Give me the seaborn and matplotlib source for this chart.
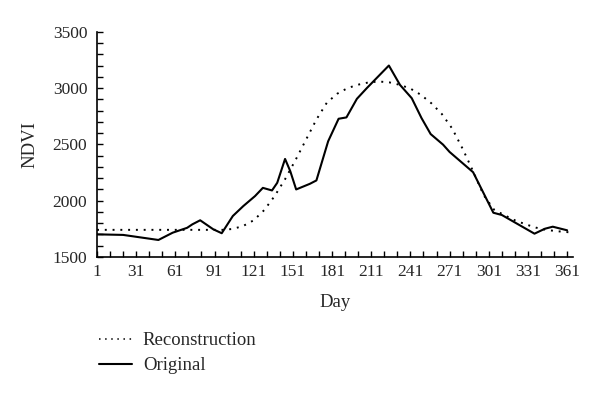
import numpy as np
import pandas as pd
import matplotlib
matplotlib.use("Agg")
import matplotlib.pyplot as plt
import seaborn as sns
from matplotlib.ticker import MultipleLocator, FixedLocator
from matplotlib.lines import Line2D

orig_days = [1, 21, 48, 59, 70, 74, 80, 90, 96.5, 105, 113, 122, 128, 135, 139, 145, 149, 153.5,
             164, 169, 178, 186, 192, 200, 207.5, 224.5, 233, 242, 249.5, 256.5, 266, 271,
             289, 304.5, 311, 336, 344, 350, 361]
orig_vals = [1700, 1695, 1650, 1715, 1758, 1789, 1825, 1745, 1710, 1863, 1951, 2040, 2113, 2090, 2158,
             2370, 2261, 2099, 2149, 2179, 2527, 2727, 2739, 2904, 2998, 3200, 3028, 2910,
             2733, 2591, 2497, 2432, 2252, 1892, 1872, 1706, 1750, 1768, 1736]

rec_days = [1, 17, 33, 49, 65, 81, 97, 105, 113, 121, 129, 137, 145, 153, 161, 169, 177, 185,
            193, 201, 209, 217, 225, 233, 241, 249, 257, 265, 273, 281, 289, 297, 305, 313,
            321, 329, 337, 345, 353, 361, 365]
rec_vals = [1740, 1740, 1740, 1740, 1740, 1740, 1740, 1748, 1775, 1825, 1915, 2040, 2190, 2360,
            2540, 2720, 2870, 2950, 3000, 3030, 3050, 3058, 3050, 3028, 2995, 2940, 2865, 2770,
            2640, 2460, 2260, 2050, 1920, 1870, 1825, 1790, 1760, 1740, 1728, 1720, 1715]

x_ticks = [1, 31, 61, 91, 121, 151, 181, 211, 241, 271, 301, 331, 361]

sns.set_style("ticks")
plt.rcParams['font.family'] = ['Liberation Serif', 'DejaVu Serif']

fig = plt.figure(figsize=(6, 3.97), dpi=100)
ax = fig.add_axes([0.1617, 0.353, 0.955 - 0.1617, 0.92 - 0.353])

df_rec = pd.DataFrame({"Day": rec_days, "NDVI": rec_vals})
df_org = pd.DataFrame({"Day": orig_days, "NDVI": orig_vals})

sns.lineplot(data=df_rec, x="Day", y="NDVI", ax=ax, color="black", linewidth=1.4,
             linestyle=(0, (1, 3)), estimator=None, sort=False)
sns.lineplot(data=df_org, x="Day", y="NDVI", ax=ax, color="black", linewidth=1.5,
             estimator=None, sort=False)

ax.set_xlim(1, 365.5)
ax.set_ylim(1500, 3500)
ax.xaxis.set_major_locator(FixedLocator(x_ticks))
ax.xaxis.set_minor_locator(FixedLocator(list(range(11, 366, 10))))
ax.yaxis.set_major_locator(MultipleLocator(500))
ax.yaxis.set_minor_locator(MultipleLocator(100))
ax.tick_params(which="both", direction="in", length=4, width=1, labelsize=12.5, color="black")
ax.tick_params(axis="x", pad=5)
ax.tick_params(axis="y", pad=7)
for s in ["top", "right"]:
    ax.spines[s].set_visible(False)
for s in ["left", "bottom"]:
    ax.spines[s].set_linewidth(1.2)
    ax.spines[s].set_color("black")

ax.set_xlabel("Day", fontsize=13.5, labelpad=10)
ax.set_ylabel("NDVI", fontsize=13.5, labelpad=10)

handles = [Line2D([], [], color="black", linewidth=1.1, linestyle=(0, (1, 3))),
           Line2D([], [], color="black", linewidth=1.5)]
fig.legend(handles, ["Reconstruction", "Original"], loc="upper left",
           bbox_to_anchor=(0.152, 0.182), frameon=False, fontsize=13.5,
           handlelength=1.76, handletextpad=0.59, labelspacing=0.42, borderaxespad=0)

fig.savefig("out.png", dpi=100)
